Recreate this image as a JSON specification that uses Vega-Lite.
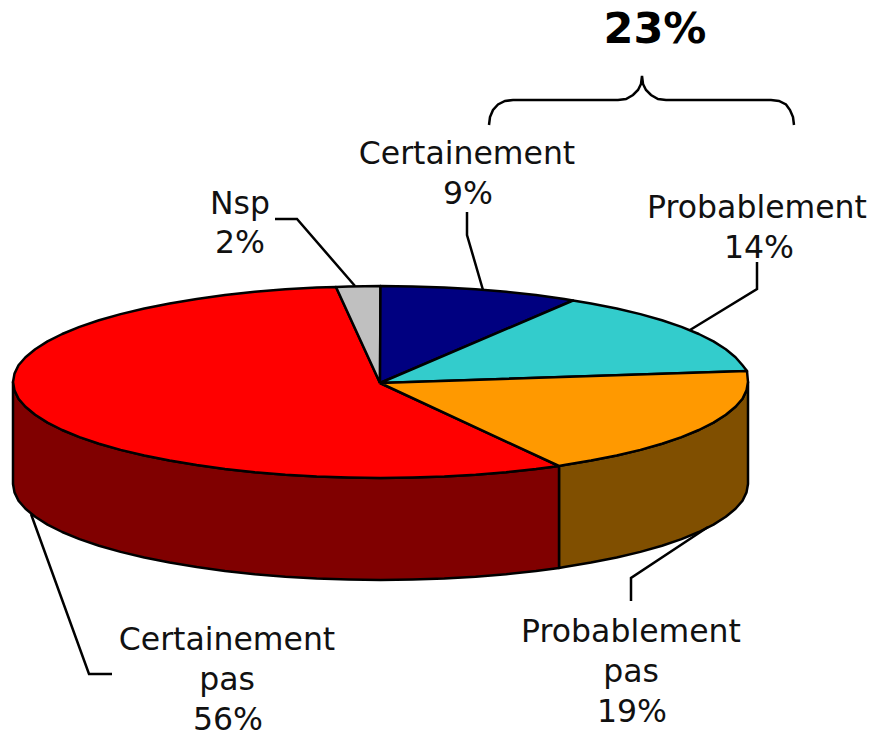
{"$schema":"https://vega.github.io/schema/vega-lite/v6.json","width":873,"height":733,"autosize":{"type":"none"},"padding":0,"background":"white","view":{"stroke":null},
"datasets":{
"pie":[
{"p":"Probablement pas side","i":1,"x":559,"y":466},{"p":"Probablement pas side","i":2,"x":564.3,"y":465.1},{"p":"Probablement pas side","i":3,"x":591,"y":460.6},{"p":"Probablement pas side","i":4,"x":616.7,"y":455.5},{"p":"Probablement pas side","i":5,"x":640.4,"y":449.9},{"p":"Probablement pas side","i":6,"x":662,"y":443.7},{"p":"Probablement pas side","i":7,"x":681.5,"y":437.1},{"p":"Probablement pas side","i":8,"x":698.8,"y":430},{"p":"Probablement pas side","i":9,"x":713.5,"y":422.6},{"p":"Probablement pas side","i":10,"x":725.8,"y":414.8},{"p":"Probablement pas side","i":11,"x":735.5,"y":406.8},{"p":"Probablement pas side","i":12,"x":742.5,"y":398.7},{"p":"Probablement pas side","i":13,"x":746.5,"y":390.4},{"p":"Probablement pas side","i":14,"x":748,"y":382},{"p":"Probablement pas side","i":15,"x":748,"y":484},{"p":"Probablement pas side","i":16,"x":746.5,"y":492.4},{"p":"Probablement pas side","i":17,"x":742.5,"y":500.7},{"p":"Probablement pas side","i":18,"x":735.5,"y":508.8},{"p":"Probablement pas side","i":19,"x":725.8,"y":516.8},{"p":"Probablement pas side","i":20,"x":713.5,"y":524.6},{"p":"Probablement pas side","i":21,"x":698.8,"y":532},{"p":"Probablement pas side","i":22,"x":681.5,"y":539.1},{"p":"Probablement pas side","i":23,"x":662,"y":545.7},{"p":"Probablement pas side","i":24,"x":640.4,"y":551.9},{"p":"Probablement pas side","i":25,"x":616.7,"y":557.5},{"p":"Probablement pas side","i":26,"x":591,"y":562.6},{"p":"Probablement pas side","i":27,"x":564.3,"y":567.1},{"p":"Probablement pas side","i":28,"x":559,"y":568},{"p":"Probablement pas side","i":29,"x":559,"y":466},
{"p":"Certainement pas side","i":1,"x":559,"y":466},{"p":"Certainement pas side","i":2,"x":536,"y":469},{"p":"Certainement pas side","i":3,"x":506.2,"y":472.2},{"p":"Certainement pas side","i":4,"x":475.6,"y":474.7},{"p":"Certainement pas side","i":5,"x":444.3,"y":476.5},{"p":"Certainement pas side","i":6,"x":412.5,"y":477.6},{"p":"Certainement pas side","i":7,"x":380.5,"y":478},{"p":"Certainement pas side","i":8,"x":348.5,"y":477.6},{"p":"Certainement pas side","i":9,"x":316.7,"y":476.5},{"p":"Certainement pas side","i":10,"x":285.4,"y":474.7},{"p":"Certainement pas side","i":11,"x":254.8,"y":472.2},{"p":"Certainement pas side","i":12,"x":225,"y":469},{"p":"Certainement pas side","i":13,"x":196.7,"y":465.1},{"p":"Certainement pas side","i":14,"x":169.6,"y":460.6},{"p":"Certainement pas side","i":15,"x":144.3,"y":455.5},{"p":"Certainement pas side","i":16,"x":120.6,"y":449.9},{"p":"Certainement pas side","i":17,"x":99,"y":443.7},{"p":"Certainement pas side","i":18,"x":79.5,"y":437.1},{"p":"Certainement pas side","i":19,"x":62.2,"y":430},{"p":"Certainement pas side","i":20,"x":47.5,"y":422.6},{"p":"Certainement pas side","i":21,"x":35.2,"y":414.8},{"p":"Certainement pas side","i":22,"x":25.5,"y":406.8},{"p":"Certainement pas side","i":23,"x":18.5,"y":398.7},{"p":"Certainement pas side","i":24,"x":14.5,"y":390.4},{"p":"Certainement pas side","i":25,"x":13,"y":382},{"p":"Certainement pas side","i":26,"x":13,"y":484},{"p":"Certainement pas side","i":27,"x":14.5,"y":492.4},{"p":"Certainement pas side","i":28,"x":18.5,"y":500.7},{"p":"Certainement pas side","i":29,"x":25.5,"y":508.8},{"p":"Certainement pas side","i":30,"x":35.2,"y":516.8},{"p":"Certainement pas side","i":31,"x":47.5,"y":524.6},{"p":"Certainement pas side","i":32,"x":62.2,"y":532},{"p":"Certainement pas side","i":33,"x":79.5,"y":539.1},{"p":"Certainement pas side","i":34,"x":99,"y":545.7},{"p":"Certainement pas side","i":35,"x":120.6,"y":551.9},{"p":"Certainement pas side","i":36,"x":144.3,"y":557.5},{"p":"Certainement pas side","i":37,"x":169.6,"y":562.6},{"p":"Certainement pas side","i":38,"x":196.7,"y":567.1},{"p":"Certainement pas side","i":39,"x":225,"y":571},{"p":"Certainement pas side","i":40,"x":254.8,"y":574.2},{"p":"Certainement pas side","i":41,"x":285.4,"y":576.7},{"p":"Certainement pas side","i":42,"x":316.7,"y":578.5},{"p":"Certainement pas side","i":43,"x":348.5,"y":579.6},{"p":"Certainement pas side","i":44,"x":380.5,"y":580},{"p":"Certainement pas side","i":45,"x":412.5,"y":579.6},{"p":"Certainement pas side","i":46,"x":444.3,"y":578.5},{"p":"Certainement pas side","i":47,"x":475.6,"y":576.7},{"p":"Certainement pas side","i":48,"x":506.2,"y":574.2},{"p":"Certainement pas side","i":49,"x":536,"y":571},{"p":"Certainement pas side","i":50,"x":559,"y":568},{"p":"Certainement pas side","i":51,"x":559,"y":466},
{"p":"Certainement pas","i":1,"x":380,"y":383},{"p":"Certainement pas","i":2,"x":559,"y":466},{"p":"Certainement pas","i":3,"x":536,"y":469},{"p":"Certainement pas","i":4,"x":506.2,"y":472.2},{"p":"Certainement pas","i":5,"x":475.6,"y":474.7},{"p":"Certainement pas","i":6,"x":444.3,"y":476.5},{"p":"Certainement pas","i":7,"x":412.5,"y":477.6},{"p":"Certainement pas","i":8,"x":380.5,"y":478},{"p":"Certainement pas","i":9,"x":348.5,"y":477.6},{"p":"Certainement pas","i":10,"x":316.7,"y":476.5},{"p":"Certainement pas","i":11,"x":285.4,"y":474.7},{"p":"Certainement pas","i":12,"x":254.8,"y":472.2},{"p":"Certainement pas","i":13,"x":225,"y":469},{"p":"Certainement pas","i":14,"x":196.7,"y":465.1},{"p":"Certainement pas","i":15,"x":169.6,"y":460.6},{"p":"Certainement pas","i":16,"x":144.3,"y":455.5},{"p":"Certainement pas","i":17,"x":120.6,"y":449.9},{"p":"Certainement pas","i":18,"x":99,"y":443.7},{"p":"Certainement pas","i":19,"x":79.5,"y":437.1},{"p":"Certainement pas","i":20,"x":62.2,"y":430},{"p":"Certainement pas","i":21,"x":47.5,"y":422.6},{"p":"Certainement pas","i":22,"x":35.2,"y":414.8},{"p":"Certainement pas","i":23,"x":25.5,"y":406.8},{"p":"Certainement pas","i":24,"x":18.5,"y":398.7},{"p":"Certainement pas","i":25,"x":14.5,"y":390.4},{"p":"Certainement pas","i":26,"x":13,"y":382},{"p":"Certainement pas","i":27,"x":14.5,"y":373.6},{"p":"Certainement pas","i":28,"x":18.5,"y":365.3},{"p":"Certainement pas","i":29,"x":25.5,"y":357.2},{"p":"Certainement pas","i":30,"x":35.2,"y":349.2},{"p":"Certainement pas","i":31,"x":47.5,"y":341.4},{"p":"Certainement pas","i":32,"x":62.2,"y":334},{"p":"Certainement pas","i":33,"x":79.5,"y":326.9},{"p":"Certainement pas","i":34,"x":99,"y":320.3},{"p":"Certainement pas","i":35,"x":120.6,"y":314.1},{"p":"Certainement pas","i":36,"x":144.3,"y":308.5},{"p":"Certainement pas","i":37,"x":169.6,"y":303.4},{"p":"Certainement pas","i":38,"x":196.7,"y":298.9},{"p":"Certainement pas","i":39,"x":225,"y":295},{"p":"Certainement pas","i":40,"x":254.8,"y":291.8},{"p":"Certainement pas","i":41,"x":285.4,"y":289.3},{"p":"Certainement pas","i":42,"x":316.7,"y":287.5},{"p":"Certainement pas","i":43,"x":336,"y":287},{"p":"Certainement pas","i":44,"x":380,"y":383},
{"p":"Nsp","i":1,"x":380,"y":383},{"p":"Nsp","i":2,"x":336,"y":287},{"p":"Nsp","i":3,"x":348.5,"y":286.4},{"p":"Nsp","i":4,"x":380.5,"y":286},{"p":"Nsp","i":5,"x":380,"y":383},
{"p":"Certainement","i":1,"x":380,"y":383},{"p":"Certainement","i":2,"x":380.5,"y":286},{"p":"Certainement","i":3,"x":412.5,"y":286.4},{"p":"Certainement","i":4,"x":444.3,"y":287.5},{"p":"Certainement","i":5,"x":475.6,"y":289.3},{"p":"Certainement","i":6,"x":506.2,"y":291.8},{"p":"Certainement","i":7,"x":536,"y":295},{"p":"Certainement","i":8,"x":564.3,"y":298.9},{"p":"Certainement","i":9,"x":573,"y":300.5},{"p":"Certainement","i":10,"x":380,"y":383},
{"p":"Probablement","i":1,"x":380,"y":383},{"p":"Probablement","i":2,"x":573,"y":300.5},{"p":"Probablement","i":3,"x":591,"y":303.4},{"p":"Probablement","i":4,"x":616.7,"y":308.5},{"p":"Probablement","i":5,"x":640.4,"y":314.1},{"p":"Probablement","i":6,"x":662,"y":320.3},{"p":"Probablement","i":7,"x":681.5,"y":326.9},{"p":"Probablement","i":8,"x":698.8,"y":334},{"p":"Probablement","i":9,"x":713.5,"y":341.4},{"p":"Probablement","i":10,"x":725.8,"y":349.2},{"p":"Probablement","i":11,"x":735.5,"y":357.2},{"p":"Probablement","i":12,"x":742.5,"y":365.3},{"p":"Probablement","i":13,"x":747,"y":371},{"p":"Probablement","i":14,"x":380,"y":383},
{"p":"Probablement pas","i":1,"x":380,"y":383},{"p":"Probablement pas","i":2,"x":747,"y":371},{"p":"Probablement pas","i":3,"x":748,"y":382},{"p":"Probablement pas","i":4,"x":746.5,"y":390.4},{"p":"Probablement pas","i":5,"x":742.5,"y":398.7},{"p":"Probablement pas","i":6,"x":735.5,"y":406.8},{"p":"Probablement pas","i":7,"x":725.8,"y":414.8},{"p":"Probablement pas","i":8,"x":713.5,"y":422.6},{"p":"Probablement pas","i":9,"x":698.8,"y":430},{"p":"Probablement pas","i":10,"x":681.5,"y":437.1},{"p":"Probablement pas","i":11,"x":662,"y":443.7},{"p":"Probablement pas","i":12,"x":640.4,"y":449.9},{"p":"Probablement pas","i":13,"x":616.7,"y":455.5},{"p":"Probablement pas","i":14,"x":591,"y":460.6},{"p":"Probablement pas","i":15,"x":564.3,"y":465.1},{"p":"Probablement pas","i":16,"x":559,"y":466},{"p":"Probablement pas","i":17,"x":380,"y":383}
],
"lines":[
{"l":"nsp","i":1,"x":275,"y":219},{"l":"nsp","i":2,"x":297,"y":219},{"l":"nsp","i":3,"x":355,"y":286},
{"l":"cert","i":1,"x":467,"y":212},{"l":"cert","i":2,"x":467,"y":235},{"l":"cert","i":3,"x":483,"y":290},
{"l":"prob","i":1,"x":757,"y":262},{"l":"prob","i":2,"x":757,"y":289},{"l":"prob","i":3,"x":690,"y":330},
{"l":"probpas","i":1,"x":631,"y":601},{"l":"probpas","i":2,"x":631,"y":578},{"l":"probpas","i":3,"x":708,"y":527},
{"l":"certpas","i":1,"x":112,"y":674},{"l":"certpas","i":2,"x":89,"y":674},{"l":"certpas","i":3,"x":31,"y":514},
{"l":"brace","i":1,"x":489,"y":125},{"l":"brace","i":2,"x":490,"y":117},{"l":"brace","i":3,"x":493,"y":110},{"l":"brace","i":4,"x":498,"y":104.5},{"l":"brace","i":5,"x":505,"y":101},{"l":"brace","i":6,"x":513,"y":100},{"l":"brace","i":7,"x":618,"y":100},{"l":"brace","i":8,"x":626,"y":99},{"l":"brace","i":9,"x":633,"y":95},{"l":"brace","i":10,"x":638,"y":90},{"l":"brace","i":11,"x":641,"y":84},{"l":"brace","i":12,"x":642,"y":76},{"l":"brace","i":13,"x":643,"y":84},{"l":"brace","i":14,"x":646,"y":90},{"l":"brace","i":15,"x":651,"y":95},{"l":"brace","i":16,"x":658,"y":99},{"l":"brace","i":17,"x":666,"y":100},{"l":"brace","i":18,"x":771,"y":100},{"l":"brace","i":19,"x":779,"y":101},{"l":"brace","i":20,"x":786,"y":104.5},{"l":"brace","i":21,"x":790,"y":110},{"l":"brace","i":22,"x":793,"y":117},{"l":"brace","i":23,"x":794,"y":125}
],
"labels":[
{"t":"Nsp","x":240,"y":214},{"t":"2%","x":240,"y":253},
{"t":"Certainement","x":467,"y":164},{"t":"9%","x":468,"y":204},
{"t":"Probablement","x":757,"y":218},{"t":"14%","x":759,"y":258},
{"t":"Probablement","x":631,"y":642},{"t":"pas","x":631,"y":682},{"t":"19%","x":632,"y":722},
{"t":"Certainement","x":227,"y":650},{"t":"pas","x":227,"y":690},{"t":"56%","x":228,"y":730}
],
"big":[{"t":"23%","x":655,"y":43}]
},
"encoding":{
"x":{"field":"x","type":"quantitative","scale":{"domain":[0,873],"nice":false,"zero":false},"axis":null},
"y":{"field":"y","type":"quantitative","scale":{"domain":[733,0],"nice":false,"zero":false},"axis":null}
},
"layer":[
{"data":{"name":"pie"},"mark":{"type":"line","filled":true,"stroke":"black","strokeWidth":2.5,"strokeJoin":"round"},
"encoding":{"order":{"field":"i","type":"quantitative"},"detail":{"field":"p"},
"color":{"field":"p","type":"nominal","legend":null,"scale":{"domain":["Probablement pas side","Certainement pas side","Certainement pas","Nsp","Certainement","Probablement","Probablement pas"],"range":["#804F00","#800000","#FF0000","#C0C0C0","#000080","#33CCCC","#FF9900"]}}}},
{"data":{"name":"lines"},"mark":{"type":"line","stroke":"black","strokeWidth":2.5},
"encoding":{"order":{"field":"i","type":"quantitative"},"detail":{"field":"l"}}},
{"data":{"name":"labels"},"mark":{"type":"text","font":"DejaVu Sans","fontSize":31.5,"align":"center","baseline":"alphabetic","fill":"#111111"},
"encoding":{"text":{"field":"t"}}},
{"data":{"name":"big"},"mark":{"type":"text","font":"DejaVu Sans","fontSize":43,"fontWeight":"bold","align":"center","baseline":"alphabetic","fill":"black"},
"encoding":{"text":{"field":"t"}}}
]}
